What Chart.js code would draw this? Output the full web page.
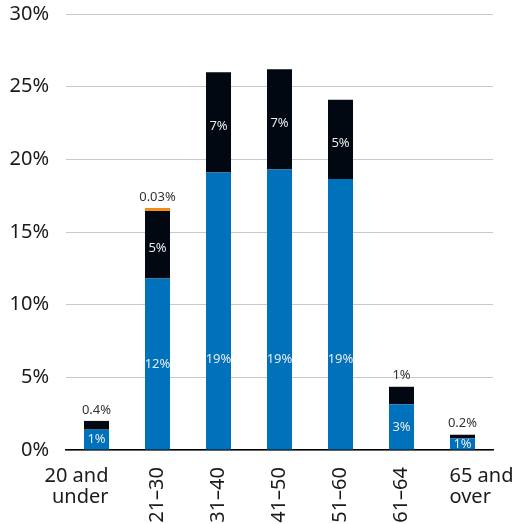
<!DOCTYPE html>
<html>
<head>
<meta charset="utf-8">
<script src="https://cdn.jsdelivr.net/npm/chart.js@4"></script>
<style>
    body { margin: 0; background: #fff; }
    #wrap { width: 519px; height: 524px; }
</style>
</head>
<body>
<div id="wrap"><canvas id="chart" width="519" height="524"></canvas></div>
<script>
const categories = ['20 and under', '21–30', '31–40', '41–50', '51–60', '61–64', '65 and over'];
const blueValues = [1.4, 11.8, 19.1, 19.3, 18.65, 3.15, 0.8];
const blackValues = [0.6, 4.65, 6.9, 6.9, 5.45, 1.2, 0.25];
const orangeValues = [0, 0.2, 0, 0, 0, 0, 0];
const blueLabels = ['1%', '12%', '19%', '19%', '19%', '3%', '1%'];
const blackLabels = ['0.4%', '5%', '7%', '7%', '5%', '1%', '0.2%'];
const orangeLabels = ['', '0.03%', '', '', '', '', ''];
const yTicks = [0, 5, 10, 15, 20, 25, 30];

const FONT = '"Noto Sans", sans-serif';
const allLabels = [blueLabels, blackLabels, orangeLabels];

// value labels: inside the segment, or above the stack when an upper segment is small
const valueLabels = {
    id: 'valueLabels',
    afterDatasetsDraw(chart) {
        const { ctx } = chart;
        const y = chart.scales.y;
        ctx.save();
        ctx.font = '13px ' + FONT;
        ctx.textAlign = 'center';
        ctx.textBaseline = 'middle';
        categories.forEach((cat, i) => {
            let topPx = y.getPixelForValue(0);
            chart.data.datasets.forEach((ds, d) => {
                const bar = chart.getDatasetMeta(d).data[i];
                if (ds.data[i] > 0) topPx = Math.min(topPx, bar.y);
            });
            chart.data.datasets.forEach((ds, d) => {
                const text = allLabels[d][i];
                if (!text) return;
                const bar = chart.getDatasetMeta(d).data[i];
                const h = bar.base - bar.y;
                if (d > 0 && h < 20) {
                    ctx.fillStyle = '#333';
                    ctx.fillText(text, bar.x, topPx - 11);
                } else {
                    let cy = (bar.y + bar.base) / 2;
                    if (d === 0) cy = Math.max(cy, bar.base - 90);
                    else cy += 4;
                    ctx.fillStyle = '#eaeaea';
                    ctx.fillText(text, bar.x, cy);
                }
            });
        });
        ctx.restore();
    }
};

// category labels: end ones flat on two lines, the others turned upright
const xLabels = {
    id: 'xLabels',
    afterDraw(chart) {
        const { ctx } = chart;
        const x = chart.scales.x;
        ctx.save();
        ctx.font = '20px ' + FONT;
        ctx.fillStyle = '#1a1a1a';
        categories.forEach((cat, i) => {
            const cx = x.getPixelForValue(i);
            if (i === 0 || i === categories.length - 1) {
                const parts = cat.split(' ');
                const lines = [parts.slice(0, 2).join(' '), parts.slice(2).join(' ')];
                ctx.textBaseline = 'alphabetic';
                ctx.textAlign = i === 0 ? 'right' : 'left';
                const ax = i === 0 ? cx + 12 : cx - 13;
                ctx.fillText(lines[0], ax, 482);
                ctx.fillText(lines[1], ax, 503);
            } else {
                ctx.save();
                ctx.translate(cx, 467);
                ctx.rotate(-Math.PI / 2);
                ctx.textAlign = 'right';
                ctx.textBaseline = 'middle';
                ctx.fillText(cat, 0, 0);
                ctx.restore();
            }
        });
        ctx.restore();
    }
};

function makeSet(label, data, color) {
    return {
        label: label,
        data: data,
        backgroundColor: color,
        borderWidth: 0,
        categoryPercentage: 1,
        barPercentage: 0.41,
    };
}

new Chart(document.getElementById('chart'), {
    type: 'bar',
    data: {
        labels: categories,
        datasets: [
            makeSet('blue', blueValues, '#0071bb'),
            makeSet('black', blackValues, '#020812'),
            makeSet('orange', orangeValues, '#f28a14'),
        ]
    },
    options: {
        responsive: false,
        animation: false,
        layout: { padding: { top: 0, right: 26, bottom: 0, left: 0 } },
        plugins: { legend: { display: false }, tooltip: { enabled: false } },
        scales: {
            x: {
                stacked: true,
                grid: { display: false },
                border: { color: '#000', width: 1.5 },
                ticks: { display: false },
                afterFit(scale) { scale.height = 74; },
            },
            y: {
                stacked: true,
                min: 0,
                max: 30,
                afterBuildTicks(scale) { scale.ticks = yTicks.map(v => ({ value: v })); },
                afterFit(scale) { scale.width = 66; scale.paddingTop = 14; },
                grid: { color: '#c9c9c9', lineWidth: 1, drawTicks: false },
                border: { display: false },
                ticks: {
                    padding: 17,
                    color: '#1a1a1a',
                    font: { family: 'Noto Sans', size: 20 },
                    callback: v => v + '%',
                },
            }
        }
    },
    plugins: [valueLabels, xLabels]
});
</script>
</body>
</html>
